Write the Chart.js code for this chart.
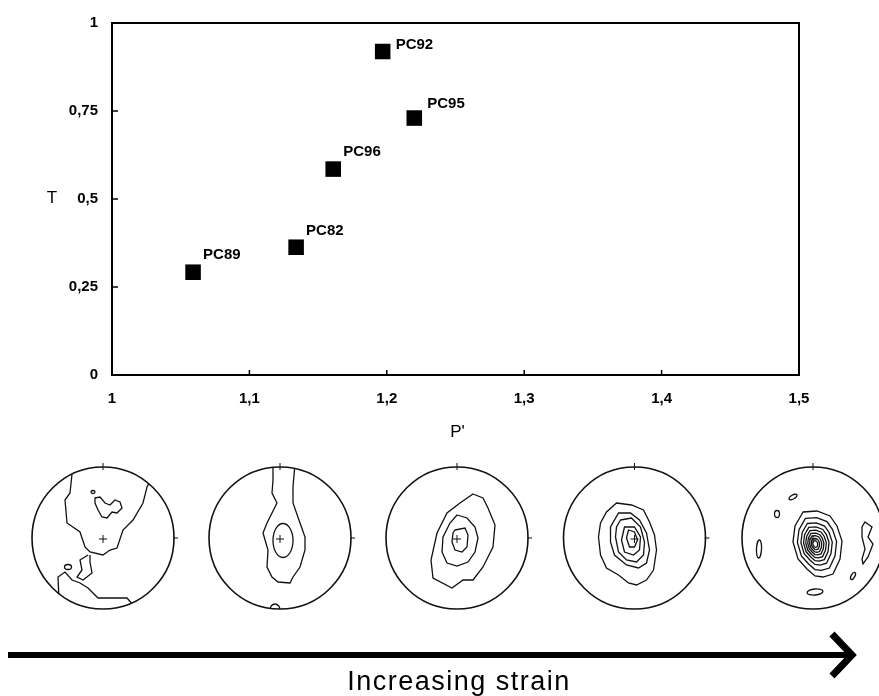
<!DOCTYPE html>
<html>
<head>
<meta charset="utf-8">
<script src="https://cdn.jsdelivr.net/npm/chart.js@4.4.1/dist/chart.umd.min.js"></script>
<style>
  html, body { margin: 0; padding: 0; background: #fff; }
  #wrap { position: relative; width: 879px; height: 696px; }
</style>
</head>
<body>
<div id="wrap"><canvas id="anisotropy"></canvas></div>
<script>
// samples with P' (corrected anisotropy degree) and T (shape parameter)
const samples = ['PC89', 'PC82', 'PC96', 'PC92', 'PC95'];
const pValues = [1.059, 1.134, 1.161, 1.197, 1.220];
const tValues = [0.292, 0.363, 0.585, 0.919, 0.730];

const xTicks = [1, 1.1, 1.2, 1.3, 1.4, 1.5];
const yTicks = [0, 0.25, 0.5, 0.75, 1];

// where each sample name sits relative to its square (px)
const labelShift = [[10, -17], [10, -16], [10, -17], [13, -7], [13, -14]];

const FONT = "'Liberation Sans', Arial, Helvetica, sans-serif";
const fmt = v => String(v).replace('.', ',');

// ----------------------------------------------------------------------------------------------
// stereonets under the graph (sketch of the contour diagrams, offsets from each net centre)
const netX = [103, 280, 457, 634.5, 813];
const netY = 538;
const netR = 71;

const net5Core = [[-10,-26],[4,-27],[17,-22],[24,-12],[29,3],[27,21],[20,36],[10,39],[2,38],[-6,31],[-15,21],[-20,4],[-18,-12]];

const netContours = [
    [
        { pts: [[-32,-75],[-31,-64],[-33,-45],[-38,-38],[-36,-15],[-23,-6],[-18,9],[-13,14],[0,17],[7,12],[14,10],[20,-8],[30,-18],[40,-35],[44,-51],[48,-58]] },
        { pts: [[-15,17],[-23,22],[-21,32],[-26,39],[-20,42],[-11,35],[-13,24],[-13,17]] },
        { pts: [[-44,62],[-45,39],[-38,34],[-31,42],[-23,45],[-15,50],[-5,60],[24,60],[31,68]] },
        { closed: true, pts: [[-8,-40],[-3,-41],[2,-35],[7,-33],[12,-38],[17,-36],[19,-30],[14,-25],[9,-26],[4,-20],[-1,-21],[-5,-28],[-8,-35]] },
        { ell: [-35, 29, 3.5, 2.5, 0] },
        { ell: [-10, -46, 2, 1.5, 0] },
    ],
    [
        { pts: [[-7,-75],[-7,-58],[-8,-45],[-3,-35],[-13,-15],[-17,-5],[-12,12],[-13,29],[-8,39],[-2,44],[10,45],[13,39],[20,29],[25,12],[25,-1],[20,-15],[13,-35],[13,-51],[15,-75]] },
        { ell: [3, 2.5, 10, 17, 0] },
        { ell: [-5, 72, 5, 6, 0] },
    ],
    [
        { closed: true, pts: [[16,-44],[26,-40],[31,-30],[38,-13],[36,9],[26,29],[16,42],[6,42],[-5,50],[-24,40],[-26,22],[-20,-5],[-10,-25],[3,-35]] },
        { closed: true, pts: [[0,-23],[10,-20],[18,-11],[21,0],[18,14],[11,24],[0,28],[-10,25],[-15,14],[-14,-1],[-7,-15]] },
        { closed: true, pts: [[-2,-8],[8,-10],[11,-3],[10,9],[5,14],[-2,12],[-5,4],[-4,-5]] },
    ],
    [
        { closed: true, pts: [[-18,-35],[-3,-33],[9,-28],[15,-16],[20,-3],[22,12],[19,32],[12,42],[2,47],[-6,45],[-16,37],[-28,30],[-34,17],[-36,-1],[-34,-15],[-28,-26]] },
        { closed: true, pts: [[-16,-25],[-4,-25],[5,-18],[12,-5],[15,12],[12,25],[4,30],[-8,27],[-20,17],[-24,4],[-24,-11]] },
        { closed: true, pts: [[-14,-18],[-3,-20],[6,-11],[10,4],[9,17],[2,24],[-8,22],[-16,14],[-19,-1],[-18,-11]] },
        { closed: true, pts: [[-10,-11],[0,-11],[6,-1],[5,12],[-1,17],[-10,14],[-13,2]] },
        { closed: true, pts: [[-6,-8],[0,-6],[3,2],[0,9],[-5,9],[-8,0]] },
    ],
    [
        { closed: true, pts: net5Core },
        ...[0.8, 0.64, 0.52, 0.42, 0.33, 0.25, 0.17, 0.1].map(k => ({
            closed: true, pts: net5Core.map(([x, y]) => [2 + (x - 2) * k, 6 + (y - 6) * k])
        })),
        { closed: true, pts: [[52,-16],[59,-11],[55,-1],[60,6],[55,19],[50,26],[49,21],[52,11],[49,-1],[49,-11]] },
        { ell: [-20, -41, 4.5, 2, -0.5] },
        { ell: [-36, -24, 2.5, 3.5, 0] },
        { ell: [-54, 11, 2.5, 9, 0.05] },
        { ell: [40, 38, 1.8, 4, 0.5] },
        { ell: [2, 54, 8, 3, -0.1] },
    ],
];

function drawNet(ctx, i) {
    const cx = netX[i], cy = netY, r = netR;
    ctx.save();
    ctx.strokeStyle = '#111';
    ctx.lineWidth = 1.6;
    ctx.beginPath();
    ctx.arc(cx, cy, r, 0, Math.PI * 2);
    ctx.stroke();
    // north and east marks
    ctx.lineWidth = 1;
    ctx.beginPath();
    ctx.moveTo(cx, cy - r - 4); ctx.lineTo(cx, cy - r + 3);
    ctx.moveTo(cx + r - 1, cy); ctx.lineTo(cx + r + 4, cy);
    ctx.stroke();
    // centre cross
    ctx.beginPath();
    ctx.moveTo(cx - 4, cy + 1); ctx.lineTo(cx + 4, cy + 1);
    ctx.moveTo(cx, cy - 3); ctx.lineTo(cx, cy + 5);
    ctx.stroke();

    ctx.beginPath();
    ctx.arc(cx, cy, r, 0, Math.PI * 2);
    ctx.clip();
    ctx.lineWidth = 1.3;
    netContours[i].forEach(c => {
        ctx.beginPath();
        if (c.ell) {
            const [dx, dy, rx, ry, rot] = c.ell;
            ctx.ellipse(cx + dx, cy + dy, rx, ry, rot, 0, Math.PI * 2);
        } else {
            c.pts.forEach(([dx, dy], k) => k ? ctx.lineTo(cx + dx, cy + dy) : ctx.moveTo(cx + dx, cy + dy));
            if (c.closed) ctx.closePath();
        }
        ctx.stroke();
    });
    ctx.restore();
}

const framePlugin = {
    id: 'frame',
    afterDatasetsDraw(chart) {
        const { ctx, chartArea: a, scales } = chart;
        ctx.save();
        ctx.strokeStyle = '#000';
        ctx.lineWidth = 2;
        ctx.strokeRect(a.left, a.top, a.right - a.left, a.bottom - a.top);
        ctx.lineWidth = 1.5;
        ctx.beginPath();
        xTicks.slice(1, -1).forEach(v => {
            const x = scales.x.getPixelForValue(v);
            ctx.moveTo(x, a.bottom); ctx.lineTo(x, a.bottom - 5);
        });
        yTicks.slice(1, -1).forEach(v => {
            const y = scales.y.getPixelForValue(v);
            ctx.moveTo(a.left, y); ctx.lineTo(a.left + 6, y);
        });
        ctx.stroke();

        // sample names next to the squares
        ctx.fillStyle = '#000';
        ctx.font = 'bold 15px ' + FONT;
        ctx.textAlign = 'left';
        ctx.textBaseline = 'middle';
        chart.getDatasetMeta(0).data.forEach((pt, i) => {
            const [dx, dy] = labelShift[i];
            ctx.fillText(samples[i], pt.x + dx, pt.y + dy);
        });

        // axis titles
        ctx.font = '17px ' + FONT;
        ctx.textAlign = 'center';
        ctx.fillText('T', 52, scales.y.getPixelForValue(0.5) - 1);
        ctx.fillText("P'", (a.left + a.right) / 2 + 2, 432);
        ctx.restore();
    },
    afterDraw(chart) {
        const ctx = chart.ctx;
        netX.forEach((_, i) => drawNet(ctx, i));

        // strain arrow
        ctx.save();
        ctx.strokeStyle = '#000';
        ctx.lineWidth = 6;
        ctx.beginPath();
        ctx.moveTo(8, 655); ctx.lineTo(850, 655);
        ctx.stroke();
        ctx.lineWidth = 7;
        ctx.lineJoin = 'miter';
        ctx.beginPath();
        ctx.moveTo(832, 634); ctx.lineTo(852, 655); ctx.lineTo(832, 676);
        ctx.stroke();

        ctx.fillStyle = '#000';
        ctx.font = '27px ' + FONT;
        ctx.textAlign = 'center';
        ctx.textBaseline = 'alphabetic';
        if ('letterSpacing' in ctx) ctx.letterSpacing = '1.5px';
        ctx.fillText('Increasing strain', 459, 690);
        ctx.restore();
    }
};

new Chart(document.getElementById('anisotropy'), {
    type: 'scatter',
    data: {
        datasets: [{
            label: 'T vs P\'',
            data: samples.map((s, i) => ({ x: pValues[i], y: tValues[i] })),
            pointStyle: 'rect',
            pointRadius: 11,
            pointHoverRadius: 11,
            backgroundColor: '#000',
            borderWidth: 0,
        }]
    },
    options: {
        responsive: true,
        maintainAspectRatio: false,
        animation: false,
        events: [],
        layout: { padding: { top: 19, right: 80, bottom: 0, left: 0 } },
        plugins: {
            legend: { display: false },
            tooltip: { enabled: false },
        },
        scales: {
            x: {
                type: 'linear',
                min: 1,
                max: 1.5,
                afterBuildTicks: s => { s.ticks = xTicks.map(v => ({ value: v })); },
                afterFit: s => { s.height = 321; },
                grid: { display: false, drawTicks: false },
                border: { display: false },
                ticks: {
                    autoSkip: false,
                    maxRotation: 0,
                    padding: 15,
                    color: '#000',
                    font: { family: FONT, size: 15, weight: 'bold' },
                    callback: v => fmt(v),
                },
            },
            y: {
                type: 'linear',
                min: 0,
                max: 1,
                afterBuildTicks: s => { s.ticks = yTicks.map(v => ({ value: v })); },
                afterFit: s => { s.width = 112; },
                grid: { display: false, drawTicks: false },
                border: { display: false },
                ticks: {
                    padding: 14,
                    color: '#000',
                    font: { family: FONT, size: 15, weight: 'bold' },
                    callback: v => fmt(v),
                },
            },
        },
    },
    plugins: [framePlugin],
});
</script>
</body>
</html>
